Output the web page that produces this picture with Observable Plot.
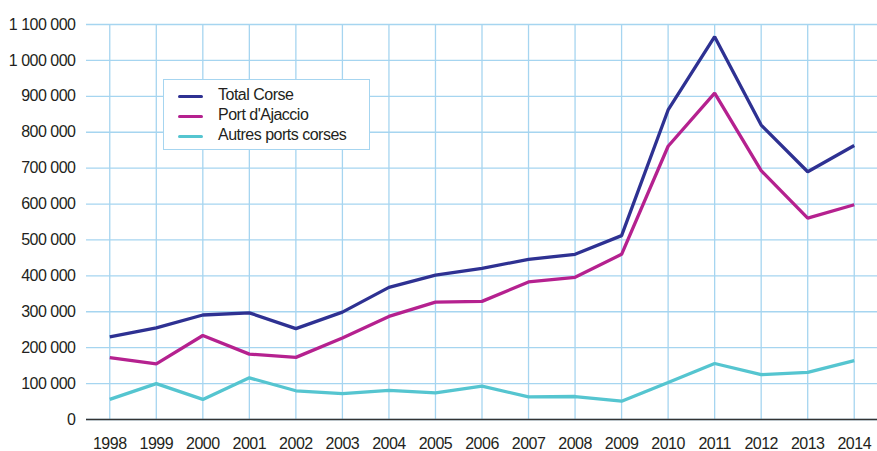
<!DOCTYPE html>
<html>
<head>
<meta charset="utf-8">
<script src="https://cdn.jsdelivr.net/npm/d3@7"></script>
<script src="https://cdn.jsdelivr.net/npm/@observablehq/plot@0.6"></script>
<style>
  html, body { margin: 0; padding: 0; background: #fff; }
  #wrap { position: relative; width: 877px; height: 451px; font-family: "Liberation Sans", Arial, sans-serif; }
  #wrap svg { display: block; }
  #wrap svg text { letter-spacing: -0.5px; }
  #legend { position: absolute; left: 163px; top: 79px; width: 205px; height: 69px; background: #fff;
            border: 1.5px solid #a6d5f0; box-sizing: content-box; }
  .item { position: absolute; left: 0; height: 20px; font-size: 16px; color: #231f20; letter-spacing: -0.5px; }
  .sw { position: absolute; left: 14px; width: 25px; height: 3.3px; border-radius: 2px; }
  .lb { position: absolute; left: 54px; white-space: nowrap; line-height: 20px; top: -1px; }
</style>
</head>
<body>
<div id="wrap"><div id="legend"></div></div>
<script>
const years = [1998,1999,2000,2001,2002,2003,2004,2005,2006,2007,2008,2009,2010,2011,2012,2013,2014];
const totalCorse = [230000,255000,291000,297000,253000,299000,368000,402000,421000,446000,460000,512000,862000,1066000,820000,690000,763000];
const portAjaccio = [172000,155000,234000,182000,173000,227000,287000,327000,329000,383000,396000,460000,761000,909000,693000,561000,598000];
const autresPorts = [56000,100000,56000,116000,80000,72000,81000,74000,93000,63000,64000,51000,103000,156000,125000,131000,164000];
const seriesNames = ["Total Corse", "Port d'Ajaccio", "Autres ports corses"];
const seriesColors = ["#2e3192", "#b5218f", "#55c5d0"];
const yTicks = [0,100000,200000,300000,400000,500000,600000,700000,800000,900000,1000000,1100000];

const seriesValues = [totalCorse, portAjaccio, autresPorts];
const data = [];
seriesNames.forEach((name, i) => {
  years.forEach((yr, j) => data.push({ year: yr, value: seriesValues[i][j], series: name }));
});

const fmt = d3.formatLocale({ thousands: " ", grouping: [3], decimal: "," }).format(",");
const gridColor = "#a6d5f0";

const chart = Plot.plot({
  width: 877,
  height: 451,
  marginLeft: 86,
  marginRight: 0,
  marginTop: 24,
  marginBottom: 32,
  style: { fontFamily: "Liberation Sans, Arial, sans-serif", fontSize: "16px", color: "#231f20", background: "#fff" },
  x: { domain: [1997.5, 2014.5] },
  y: { domain: [0, 1100000] },
  color: { domain: seriesNames, range: seriesColors },
  marks: [
    Plot.ruleY(yTicks, { stroke: gridColor, strokeWidth: 1.3 }),
    Plot.ruleX(years, { y1: 0, y2: 1100000, stroke: gridColor, strokeWidth: 1.3 }),
    Plot.ruleY([0], { stroke: "#333", strokeWidth: 1.3 }),
    Plot.axisY({ ticks: yTicks, tickFormat: fmt, tickSize: 0, tickPadding: 11, label: null }),
    Plot.axisX({ ticks: years, tickFormat: d => String(d), tickSize: 0, tickPadding: 18, label: null }),
    Plot.line(data, { x: "year", y: "value", z: "series", stroke: "series", strokeWidth: 3.3, strokeLinejoin: "miter", strokeLinecap: "butt" })
  ]
});
const wrap = document.getElementById("wrap");
wrap.insertBefore(chart, wrap.firstChild);

const legend = document.getElementById("legend");
seriesNames.forEach((name, i) => {
  const it = document.createElement("div");
  it.className = "item";
  it.style.top = (6 + i * 20) + "px";
  it.style.width = "100%";
  const sw = document.createElement("div");
  sw.className = "sw";
  sw.style.background = seriesColors[i];
  sw.style.top = "8.5px";
  const lb = document.createElement("div");
  lb.className = "lb";
  lb.textContent = name;
  it.appendChild(sw); it.appendChild(lb);
  legend.appendChild(it);
});
</script>
</body>
</html>
